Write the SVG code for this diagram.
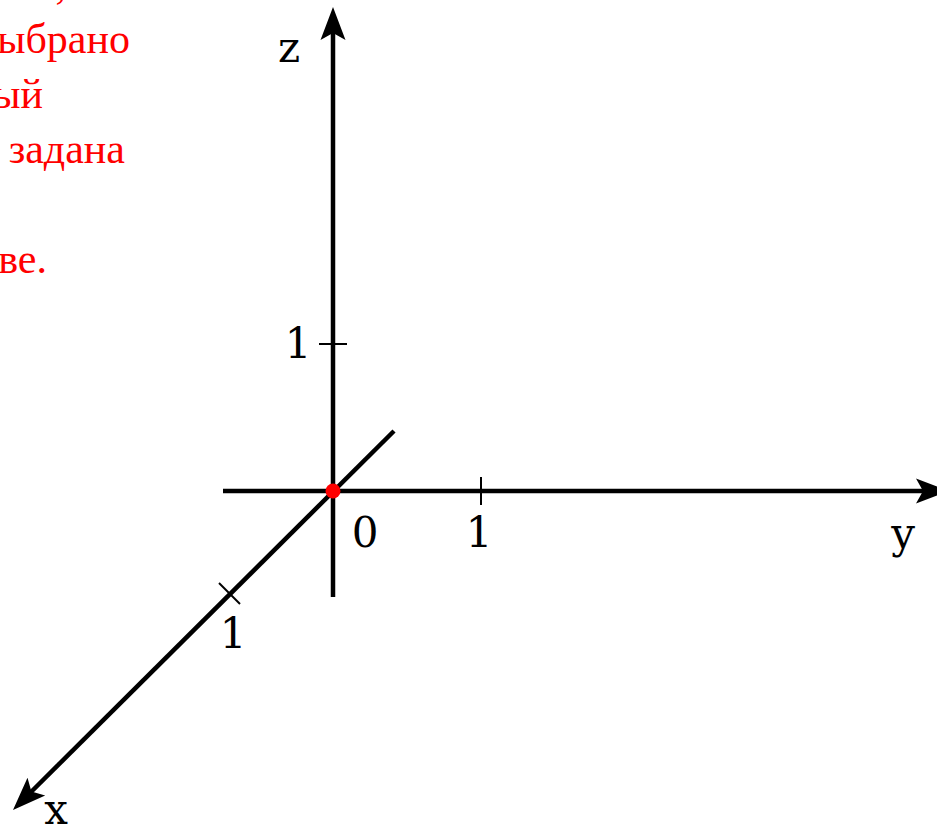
<svg xmlns="http://www.w3.org/2000/svg" width="937" height="824" viewBox="0 0 937 824">
  <style>
    .red { font-size: 42px; fill: #ff0000; }
    .lbl { font-size: 42px; fill: #000000; text-anchor: middle; }
    .axis { stroke: #000000; stroke-width: 4.5; fill: none; }
    .tick { stroke: #000000; stroke-width: 2; fill: none; }
  </style>
  <defs>
    <path id="ah" d="M0,0 L-33,-12.5 L-26,0 L-33,12.5 Z" fill="#000000"/>
  </defs>
  <rect width="937" height="824" fill="#ffffff"/>

  <g id="caption" font-family="Liberation Serif, Times New Roman, serif">
    <text class="red" x="66" y="-2" text-anchor="end">,</text>
    <text class="red" x="130" y="53" text-anchor="end">ыбрано</text>
    <text class="red" x="43" y="108" text-anchor="end">ый</text>
    <text class="red" x="125" y="163" text-anchor="end">задана</text>
    <text class="red" x="47" y="273" text-anchor="end">ве.</text>
  </g>

  <g id="connectors">
    <line class="axis" x1="333" y1="597" x2="333" y2="30"/>
    <use href="#ah" transform="translate(333,7) rotate(-90)"/>
    <line class="axis" x1="223" y1="491" x2="925" y2="491"/>
    <use href="#ah" transform="translate(949,491)"/>
    <line class="axis" x1="394" y1="431" x2="31" y2="792"/>
    <use href="#ah" transform="translate(13,810) rotate(135)"/>
  </g>

  <g id="ticks">
    <line class="tick" x1="319" y1="344" x2="347" y2="344"/>
    <line class="tick" x1="481" y1="477" x2="481" y2="505"/>
    <line class="tick" x1="219" y1="583" x2="240" y2="604"/>
  </g>

  <g id="origin">
    <circle cx="333" cy="491" r="7.5" fill="#ff0000"/>
  </g>

  <g id="labels" font-family="DejaVu Serif, Liberation Serif, serif">
    <text class="lbl" x="289" y="62">z</text>
    <text class="lbl" x="298" y="358">1</text>
    <text class="lbl" x="365" y="547">0</text>
    <text class="lbl" x="479" y="547">1</text>
    <text class="lbl" x="903" y="548">y</text>
    <text class="lbl" x="233" y="648">1</text>
    <text class="lbl" x="56" y="824">x</text>
  </g>
</svg>
